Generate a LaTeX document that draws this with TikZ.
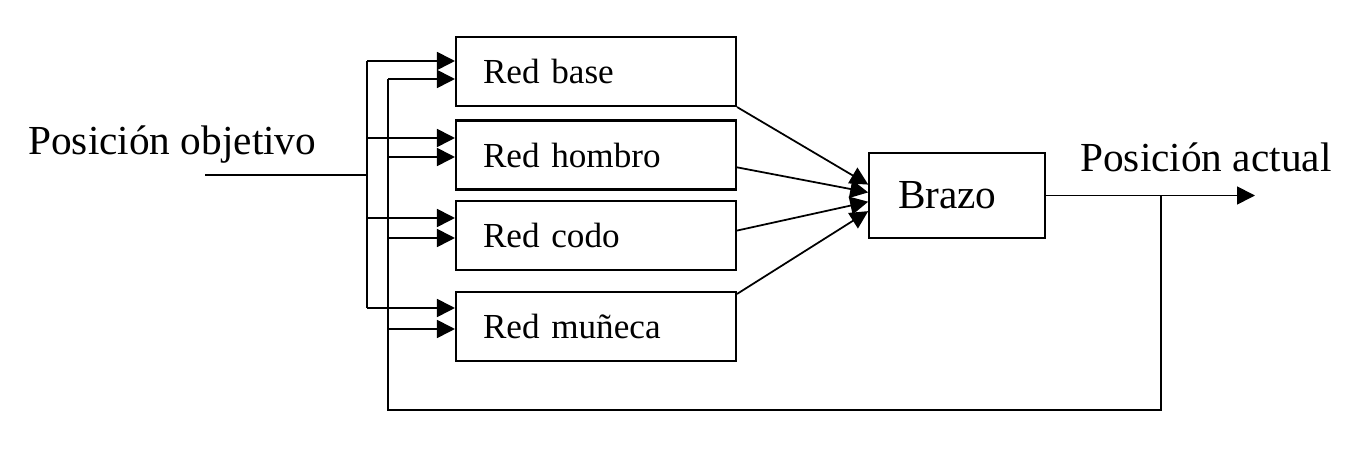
\documentclass[tikz,border=0pt]{standalone}
\usepackage{fontspec}
\setmainfont{Liberation Serif}
\usetikzlibrary{arrows.meta}

\begin{document}
\begin{tikzpicture}[x=0.02cm,y=-0.02cm,>={Triangle[length=0.36cm,width=0.36cm]},
  redbox/.style={draw,line width=1.2pt,minimum width=5.6cm,minimum height=1.38cm,
    text width=4.52cm,inner xsep=0.54cm,align=left,font=\fontsize{20}{24}\selectfont},
  lbl/.style={inner sep=0pt,font=\fontsize{23.5}{28}\selectfont},
  con/.style={line width=1pt}]
\useasboundingbox (0,0) rectangle (1360,452);
% the four nets
\node[redbox] (base) at (596,71.5) {Red base};
\node[redbox] (hombro) at (596,155) {Red hombro};
\node[redbox] (codo) at (596,235.5) {Red codo};
\node[redbox] (muneca) at (596,326.5) {Red muñeca};
\node[draw,line width=0.9pt,minimum width=3.52cm,minimum height=1.7cm,
  text width=2.36cm,inner xsep=0.58cm,align=left,
  font=\fontsize{23.5}{28}\selectfont] (brazo) at (957,195.5) {Brazo};
% labels
\node[lbl,anchor=base west] (obj) at (28,155) {Posición objetivo};
\node[lbl,anchor=base west] (act) at (1080,172) {Posición actual};
% target position bus
\coordinate (in) at (205,175);
\coordinate (j1) at (367,175);
\draw[con] (in) -- (j1);
\draw[con] (367,61) -- (367,308);
\foreach \y/\n in {61/base,138/hombro,218/codo,308/muneca}
  \draw[con,->] (367,\y) -- (\n.west |- 0,\y);
% nets into the arm
\draw[con,->] (base.south east) -- (brazo.173);
\draw[con,->] (hombro.-5) -- (brazo.178);
\draw[con,->] (codo.2) -- (brazo.184);
\draw[con,->] (muneca.13) -- (brazo.190);
% output and feedback
\coordinate (fb) at (1161,195.5);
\coordinate (outend) at (1255,195.5);
\draw[con,->] (brazo.east) -- (outend);
\draw[con] (fb) -- (1161,410) -| (388,79);
\foreach \y/\n in {79/base,157/hombro,238/codo,329/muneca}
  \draw[con,->] (388,\y) -- (\n.west |- 0,\y);
\end{tikzpicture}
\end{document}
